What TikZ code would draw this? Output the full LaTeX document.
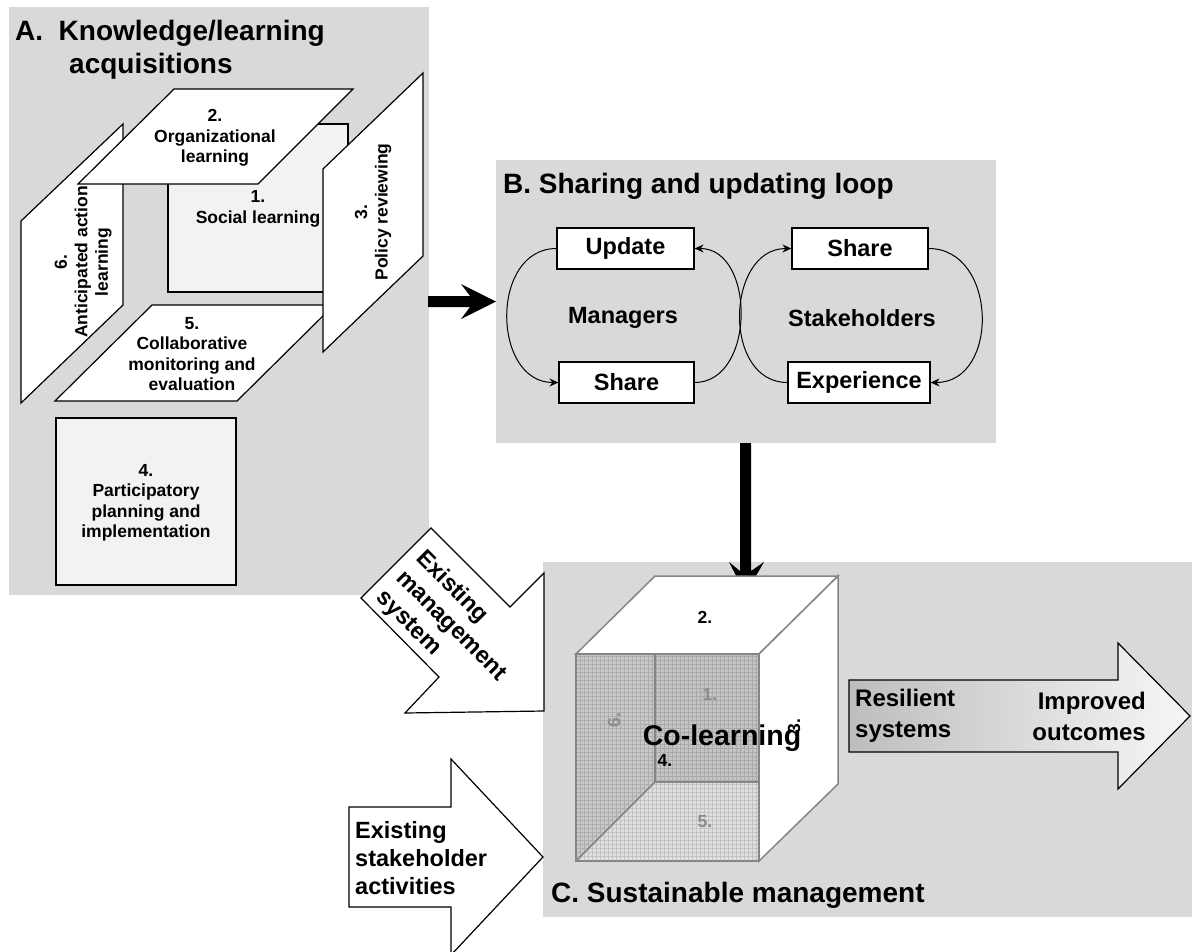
\documentclass[tikz,border=0pt]{standalone}
\usepackage{fontspec}
\setmainfont{Liberation Sans}
\usetikzlibrary{arrows.meta}
\definecolor{panelgray}{HTML}{D9D9D9}
\definecolor{sqfill}{HTML}{F2F2F2}
\definecolor{edgegray}{HTML}{858585}
\definecolor{wallback}{HTML}{C4C4C4}
\definecolor{wallleft}{HTML}{C8C8C8}
\definecolor{floorc}{HTML}{E0E0E0}
\definecolor{labgray}{HTML}{8C8C8C}
\definecolor{gradL}{HTML}{BDBDBD}
\definecolor{gradR}{HTML}{F7F7F7}
\newcommand\fsA{\fontsize{17.5}{20.5}\selectfont\bfseries}
\newcommand\fsB{\fontsize{23.5}{28}\selectfont\bfseries}
\newcommand\fsC{\fontsize{24}{31}\selectfont\bfseries}
\newcommand\fsT{\fontsize{28}{33}\selectfont\bfseries}
\newcommand\fsCo{\fontsize{28.5}{33}\selectfont\bfseries}
\tikzset{
  panel/.style={fill=panelgray, draw=none},
  plane/.style={draw=black, line width=1.2pt, fill=white, line join=miter},
  sqbox/.style={draw=black, line width=1.2pt, fill=sqfill},
  txtA/.style={font=\fsA, align=center, inner sep=0pt},
  txtB/.style={font=\fsB, align=center, inner sep=0pt},
  txtC/.style={font=\fsC, inner sep=0pt},
  ttl/.style={font=\fsT, inner sep=0pt},
  bbox/.style={draw=black, line width=1.2pt, fill=white, font=\fsB, inner sep=0pt, minimum height=41pt},
  loopline/.style={draw=black, line width=1pt, -{Stealth[length=9pt,width=8pt,inset=3pt]}},
  bigarrow/.style={fill=black, draw=none},
  blockarrow/.style={draw=black, line width=1.2pt, fill=white, line join=miter},
  cubeedge/.style={draw=edgegray, line width=1.5pt},
  cubeface/.style={fill=white, draw=edgegray, line width=1.5pt, line join=miter},
  cubelab/.style={font=\fsA, inner sep=0pt},
}
\begin{document}
\begin{tikzpicture}[x=1pt,y=-1pt]
\useasboundingbox (0,0) rectangle (1192,951);

% ---------- panels ----------
\fill[panel] (9,7) rectangle (429,595);
\fill[panel] (496,160) rectangle (996,443);
\fill[panel] (543,562) rectangle (1192,917);

% ---------- panel A ----------
\node[ttl, anchor=base west] (tA1) at (15,40) {A.\ \ Knowledge/learning};
\node[ttl, anchor=base west] (tA2) at (69,73) {acquisitions};

\draw[plane] (21,221) -- (123,124) -- (123,305) -- (21,403) -- cycle;
\draw[sqbox] (168,124) rectangle (348,292);
\draw[plane] (152,305) -- (334,305) -- (237,401) -- (55,401) -- cycle;
\draw[plane] (174,89) -- (353,89) -- (258,184) -- (78,184) -- cycle;
\draw[plane] (323,169) -- (423,73) -- (423,256) -- (323,352) -- cycle;
\draw[sqbox] (56,418) rectangle (236,585);

\node[txtA] (l2) at (215,138) {2.\\Organizational\\learning};
\node[txtA] (l1) at (258,209) {1.\\Social learning};
\node[txtA, rotate=90] (l6) at (83,262) {6.\\Anticipated action\\learning};
\node[txtA, rotate=90] (l3) at (373,212) {3.\\Policy reviewing};
\node[txtA] (l5) at (192,354) {5.\\Collaborative\\monitoring and\\evaluation};
\node[txtA] (l4) at (146,503) {4.\\Participatory\\planning and\\implementation};

% arrow A -> B
\fill[bigarrow] (428,296) -- (470,296) -- (461,284) -- (496,301.5) -- (461,319) -- (470,307) -- (428,307) -- cycle;

% ---------- panel B ----------
\node[ttl, anchor=base west] (tB) at (503,193) {B. Sharing and updating loop};
\node[bbox, minimum width=137pt] (upd) at (625.5,248.5) {Update};
\node[bbox, minimum width=135pt] (shL) at (626.5,382.5) {Share};
\node[bbox, minimum width=136pt] (shR) at (860,248.5) {Share};
\node[bbox, minimum width=142pt] (exp) at (859,382.5) {Experience};
\node[txtB] (mgr) at (623,318) {Managers};
\node[txtB] (stk) at (862,318) {Stakeholders};

\draw[loopline] (upd.west) to[out=180,in=180,looseness=1.27] (shL.west);
\draw[loopline] (shL.east) to[out=0,in=0,looseness=1.17] (upd.east);
\draw[loopline] (exp.west) to[out=180,in=180,looseness=1.25] (shR.west);
\draw[loopline] (shR.east) to[out=0,in=0,looseness=1.32] (exp.east);

% arrow B -> C
\fill[bigarrow] (740,443) -- (751,443) -- (751,571) -- (764,562) -- (745.5,594) -- (729,562) -- (740,571) -- cycle;

% ---------- panel C ----------
% cube interior
\fill[wallback] (655,654) rectangle (759,782);
\fill[wallleft] (576,654) -- (655,654) -- (655,782) -- (576,861) -- cycle;
\fill[floorc] (576,861) -- (655,782) -- (759,782) -- (759,861) -- cycle;
\begin{scope}
  \clip (576,654) rectangle (759,861);
  \draw[black, opacity=0.13, line width=0.6pt] (576,654) grid[step=4pt] (759,861);
\end{scope}
\draw[cubeedge] (655,654) -- (655,782) -- (759,782);
\draw[cubeedge] (655,782) -- (576,861);
\draw[cubeface] (576,654) -- (655,576) -- (838,576) -- (759,654) -- cycle;
\draw[cubeface] (759,654) -- (838,576) -- (838,784) -- (759,861) -- cycle;
\draw[cubeedge] (576,654) rectangle (759,861);

\node[cubelab] (c2) at (705,617) {2.};
\node[cubelab, text=labgray] (c1) at (710,694) {1.};
\node[cubelab, text=labgray, rotate=90] (c6) at (614,720) {6.};
\node[cubelab, rotate=90] (c3) at (794,726) {3.};
\node[cubelab] (c4) at (665,760) {4.};
\node[cubelab, text=labgray] (c5) at (705,822) {5.};
\node[font=\fsCo, inner sep=0pt, anchor=base] (colearn) at (722,745) {Co-learning};

% Existing management system arrow
\draw[blockarrow] (431,528) -- (510,607) -- (544,573) -- (544,711) -- (405,713) -- (439,677) -- (361,598) -- cycle;
\node[txtB, align=left, rotate=-45] (ems) at (451,626) {Existing\\management\\system};

% Existing stakeholder activities arrow
\draw[blockarrow] (349,807) -- (451,807) -- (451,759) -- (543,857) -- (451,955) -- (451,907) -- (349,907) -- cycle;
\node[txtB, align=left, anchor=west] (esa) at (355,858) {Existing\\stakeholder\\activities};

% Resilient systems arrow
\draw[draw=black, line width=1.2pt, left color=gradL, right color=gradR, line join=miter]
  (849,680) -- (1118,680) -- (1118,643) -- (1190,716) -- (1118,789) -- (1118,752) -- (849,752) -- cycle;
\node[txtC, align=left, anchor=west] (res) at (855,716) {Resilient\\systems};
\node[txtC, align=right, anchor=east] (imp) at (1146,716) {Improved\\outcomes};

\node[ttl, anchor=base west] (tC) at (551,902) {C. Sustainable management};
\end{tikzpicture}
\end{document}
